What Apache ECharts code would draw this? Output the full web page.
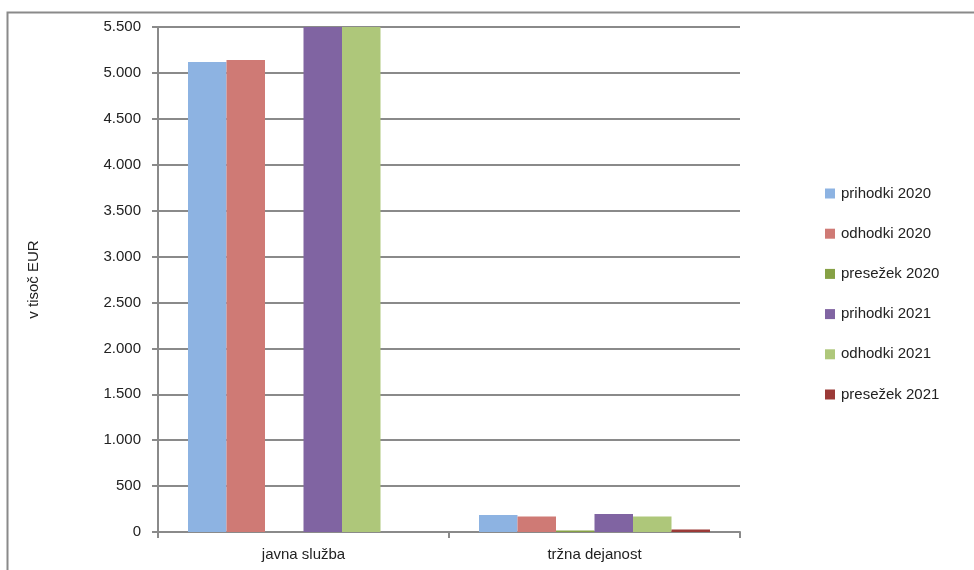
<!DOCTYPE html>
<html><head><meta charset="utf-8">
<script src="https://cdn.jsdelivr.net/npm/echarts@6/dist/echarts.min.js"></script>
<style>html,body{margin:0;padding:0;background:#fff}#c{width:974px;height:570px}</style>
</head><body><div id="c"></div>
<script>
var categories = ['javna služba', 'tržna dejanost'];
var seriesNames = ['prihodki 2020', 'odhodki 2020', 'presežek 2020', 'prihodki 2021', 'odhodki 2021', 'presežek 2021'];
var prihodki2020 = [5120, 185];
var odhodki2020 = [5140, 168];
var presezek2020 = [-20, 17];
var prihodki2021 = [5900, 195];
var odhodki2021 = [5920, 168];
var presezek2021 = [-20, 27];
var yTicks = [0, 500, 1000, 1500, 2000, 2500, 3000, 3500, 4000, 4500, 5000, 5500];

var values = [prihodki2020, odhodki2020, presezek2020, prihodki2021, odhodki2021, presezek2021];
var colors = ['#8DB3E2', '#CF7A75', '#86A145', '#8064A2', '#AEC77A', '#9B3A37'];
var font = 'Liberation Sans, Arial, sans-serif';

var chart = echarts.init(document.getElementById('c'), null, {renderer: 'canvas'});
chart.setOption({
  animation: false,
  backgroundColor: '#fff',
  graphic: [{
    type: 'rect', left: 5, top: 10, z: -1,
    shape: {width: 1000, height: 600},
    style: {fill: 'none', stroke: '#8a8a8a', lineWidth: 2}
  }],
  grid: {left: 158, top: 27, right: 234, bottom: 38, containLabel: false},
  legend: {
    orient: 'vertical', left: 820, top: 181, itemGap: 25.2,
    itemWidth: 10, itemHeight: 10, icon: 'rect',
    data: seriesNames,
    textStyle: {fontFamily: font, fontSize: 15, color: '#222', padding: [0,0,0,1]}
  },
  xAxis: {
    type: 'category', data: categories,
    axisLine: {lineStyle: {color: '#8a8a8a', width: 2}},
    axisTick: {show: true, length: 6, lineStyle: {color: '#8a8a8a', width: 2}},
    axisLabel: {fontFamily: font, fontSize: 15, color: '#222', margin: 15}
  },
  yAxis: {
    type: 'value', min: 0, max: 5500, interval: 500,
    name: 'v tisoč EUR', nameLocation: 'middle', nameGap: 117, nameRotate: 90,
    nameTextStyle: {fontFamily: font, fontSize: 15, color: '#222'},
    axisLine: {show: true, lineStyle: {color: '#8a8a8a', width: 2}},
    axisTick: {show: true, length: 6, lineStyle: {color: '#8a8a8a', width: 2}},
    splitLine: {lineStyle: {color: '#8a8a8a', width: 2}},
    axisLabel: {fontFamily: font, fontSize: 15, color: '#222', margin: 17,
      formatter: function (v) { return String(v).replace(/\B(?=(\d{3})+(?!\d))/g, '.'); }}
  },
  series: seriesNames.map(function (n, i) {
    return {
      name: n, type: 'bar', data: values[i], barWidth: 38.5, barGap: '0%',
      itemStyle: {color: colors[i]}, clip: true
    };
  })
});
</script></body></html>
